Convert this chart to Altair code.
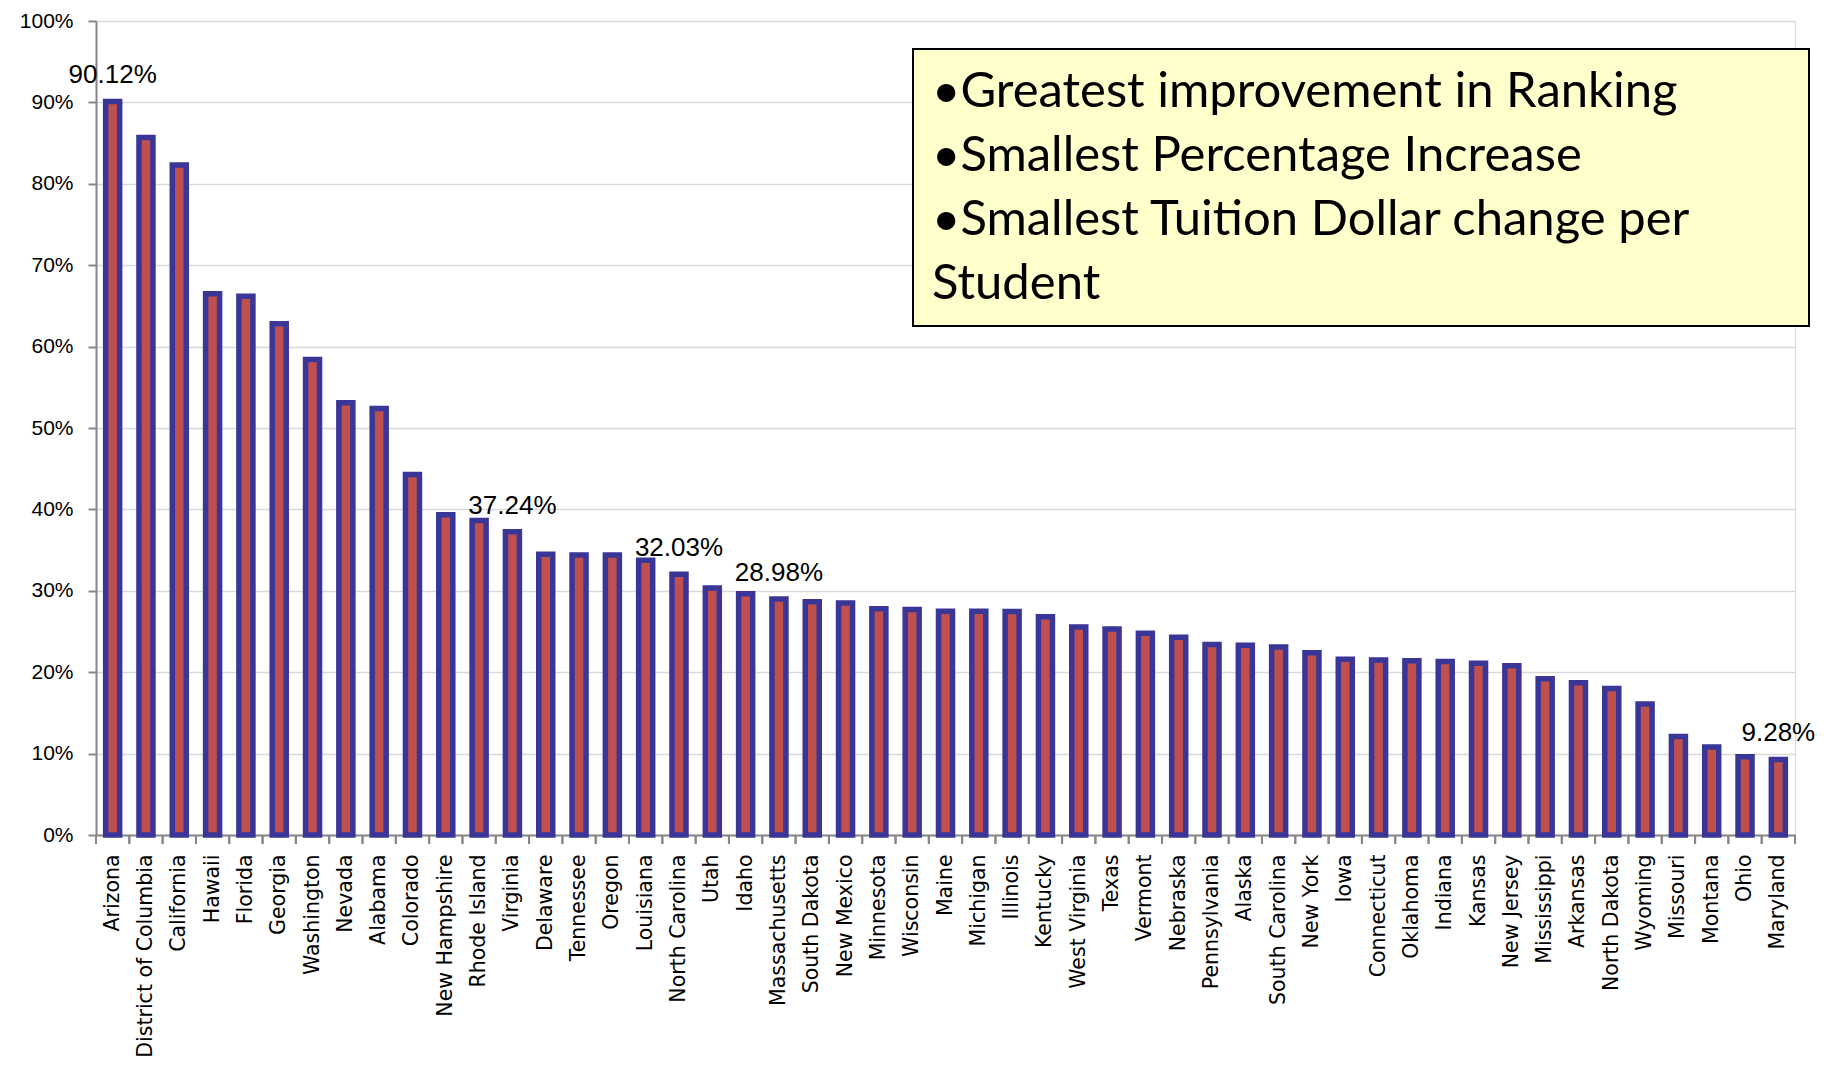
import altair as alt
import pandas as pd

states = ["Arizona", "District of Columbia", "California", "Hawaii", "Florida", "Georgia",
          "Washington", "Nevada", "Alabama", "Colorado", "New Hampshire", "Rhode Island",
          "Virginia", "Delaware", "Tennessee", "Oregon", "Louisiana", "North Carolina", "Utah",
          "Idaho", "Massachusetts", "South Dakota", "New Mexico", "Minnesota", "Wisconsin",
          "Maine", "Michigan", "Illinois", "Kentucky", "West Virginia", "Texas", "Vermont",
          "Nebraska", "Pennsylvania", "Alaska", "South Carolina", "New York", "Iowa",
          "Connecticut", "Oklahoma", "Indiana", "Kansas", "New Jersey", "Mississippi",
          "Arkansas", "North Dakota", "Wyoming", "Missouri", "Montana", "Ohio", "Maryland"]

pct_increase = [90.12, 85.7, 82.3, 66.5, 66.2, 62.8, 58.4, 53.1, 52.4, 44.3,
                39.35, 38.65, 37.24, 34.5, 34.4, 34.4, 33.75, 32.03, 30.35, 29.65,
                28.98, 28.65, 28.5, 27.8, 27.7, 27.5, 27.5, 27.45, 26.8, 25.55,
                25.3, 24.8, 24.3, 23.4, 23.3, 23.1, 22.4, 21.6, 21.5, 21.4,
                21.3, 21.1, 20.8, 19.2, 18.7, 18.0, 16.1, 12.1, 10.8, 9.6, 9.28]

labeled_states = ["Arizona", "Virginia", "North Carolina", "Massachusetts", "Maryland"]

y_ticks = [0, 0.1, 0.2, 0.3, 0.4, 0.5, 0.6, 0.7, 0.8, 0.9, 1.0]

note_lines = ["\u2022Greatest improvement in Ranking",
              "\u2022Smallest Percentage Increase",
              "\u2022Smallest Tuition Dollar change per",
              "Student"]

df = pd.DataFrame({"state": states, "pct": [v / 100 for v in pct_increase]})

W = 1699
TOP = 13
H = 827 - TOP
AXIS_GRAY = "#868686"

x_enc = alt.X(
    "state:N", sort=states, title=None,
    scale=alt.Scale(paddingInner=0, paddingOuter=0),
    axis=alt.Axis(labelAngle=-90, labelFont="DejaVu Sans", labelFontSize=20.5,
                  labelColor="#000000", ticks=False, tickSize=0, labelPadding=19,
                  labelLimit=0, domainColor=AXIS_GRAY, domainWidth=2, grid=False,
                  labelOverlap=False),
)

y_enc = alt.Y(
    "pct:Q", title=None,
    scale=alt.Scale(domain=[0, 1], nice=False),
    axis=alt.Axis(values=y_ticks, format=".0%", labelFont="Liberation Sans",
                  labelFontSize=21, labelColor="#000000", labelPadding=15,
                  tickSize=8, tickColor=AXIS_GRAY, tickWidth=2,
                  domainColor=AXIS_GRAY, domainWidth=2,
                  gridColor="#D9D9D9", gridWidth=1.5),
)

bars = alt.Chart(df).mark_bar(
    size=14, fill="#C0504D", stroke="#3A3698", strokeWidth=5.5
).encode(x=x_enc, y=y_enc)

cat_ticks_left = alt.Chart(df).mark_rule(color=AXIS_GRAY, strokeWidth=2).encode(
    x=alt.X("state:N", sort=states, bandPosition=0),
    y=alt.value(H), y2=alt.value(H + 9),
)
cat_ticks_right = alt.Chart(df).mark_rule(color=AXIS_GRAY, strokeWidth=2).encode(
    x=alt.X("state:N", sort=states, bandPosition=1),
    y=alt.value(H), y2=alt.value(H + 9),
)

labels = alt.Chart(df).transform_filter(
    alt.FieldOneOfPredicate(field="state", oneOf=labeled_states)
).mark_text(
    font="Liberation Sans", fontSize=26, dy=-18, baseline="alphabetic",
    align="center", color="#000000"
).encode(
    x=alt.X("state:N", sort=states),
    y="pct:Q",
    text=alt.Text("pct:Q", format=".2%"),
)

one = pd.DataFrame({"k": [0]})
box = alt.Chart(one).mark_rect(fill="#FFFFCC", stroke="#000000", strokeWidth=2).encode(
    x=alt.value(817), x2=alt.value(1713),
    y=alt.value(49 - 8 - TOP), y2=alt.value(326 - 8 - TOP)
)

layers = [bars, cat_ticks_left, cat_ticks_right, labels, box]
for i, line in enumerate(note_lines):
    layers.append(
        alt.Chart(one).mark_text(
            text=line, font="Lato", fontSize=49, align="left",
            baseline="alphabetic", color="#000000"
        ).encode(x=alt.value(836), y=alt.value(107 - 8 - TOP + 64 * i))
    )

chart = alt.layer(*layers).properties(
    width=W, height=H,
    autosize=alt.AutoSizeParams(type="none"),
    padding={"left": 88, "top": TOP, "right": 30, "bottom": 1058 - 8 - 827},
).configure_view(stroke=None).configure(background="white")

chart.save("out.html", embed_options={"renderer": "svg", "actions": False})
